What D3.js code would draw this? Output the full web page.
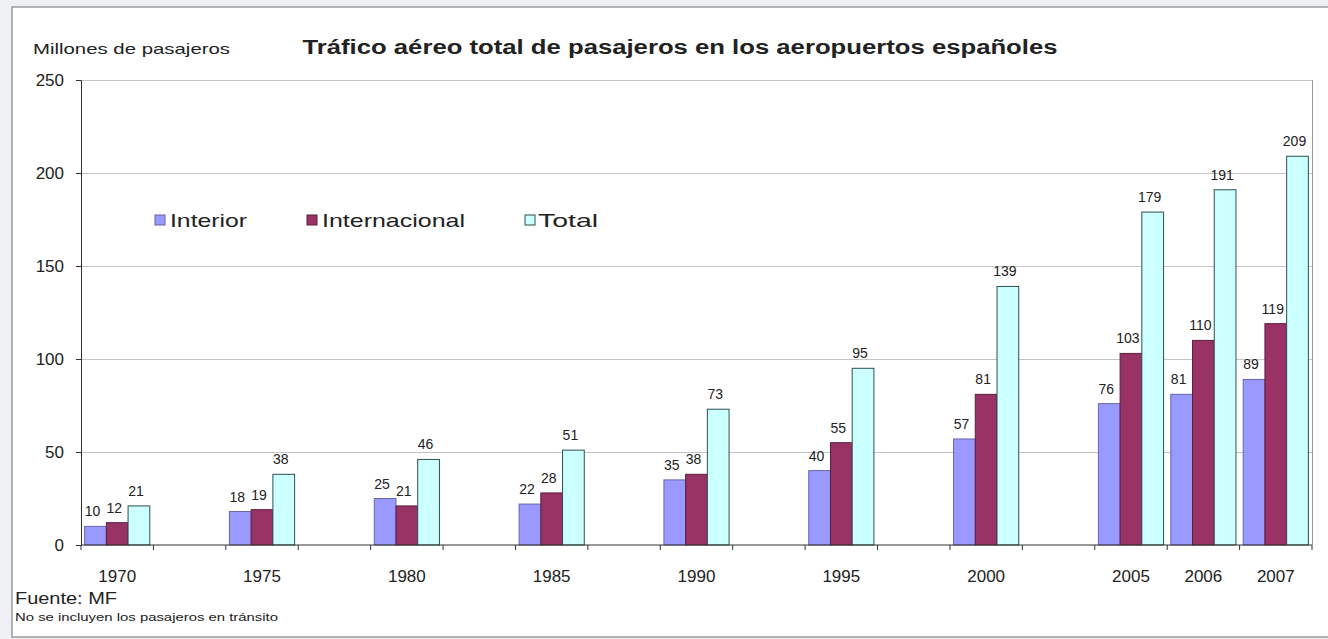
<!DOCTYPE html>
<html>
<head>
<meta charset="utf-8">
<script src="https://cdn.jsdelivr.net/npm/d3@7/dist/d3.min.js"></script>
<style>
  html, body { margin: 0; padding: 0; background: #eef0f3; }
  svg { display: block; }
  text { font-family: "Liberation Sans", Arial, sans-serif; fill: #222; }
</style>
</head>
<body>
<script>
// Passenger air traffic in Spanish airports (millions of passengers)
const years = ["1970", "1975", "1980", "1985", "1990", "1995", "2000", "2005", "2006", "2007"];
const interior = [10, 18, 25, 22, 35, 40, 57, 76, 81, 89];
const internacional = [12, 19, 21, 28, 38, 55, 81, 103, 110, 119];
const total = [21, 38, 46, 51, 73, 95, 139, 179, 191, 209];
const seriesNames = ["Interior", "Internacional", "Total"];
const yTicks = [0, 50, 100, 150, 200, 250];

const W = 1328, H = 639;
const margin = { left: 81, right: 16, top: 80, bottom: 94 };
const colors = { Interior: "#9999ff", Internacional: "#993366", Total: "#ccffff" };
const strokes = { Interior: "#6666aa", Internacional: "#5a1f3c", Total: "#2f4f4f" };

const series = [
  { name: "Interior", values: interior },
  { name: "Internacional", values: internacional },
  { name: "Total", values: total }
];

// Category slots: an empty slot is left between years that are more than one year apart
const slots = [];
years.forEach((y, i) => {
  if (i > 0 && (+y - +years[i - 1]) > 1) slots.push("gap" + i);
  slots.push(y);
});

const svg = d3.select("body").append("svg").attr("width", W).attr("height", H);

// white frame
svg.append("rect").attr("x", 12).attr("y", 7).attr("width", W).attr("height", 630)
  .attr("fill", "#fff").attr("stroke", "#9a9a9a").attr("stroke-width", 1.5);

const x0 = d3.scaleBand().domain(slots).range([margin.left, W - margin.right]).paddingInner(0).paddingOuter(0);
const inner = d3.scaleBand().domain(seriesNames).range([x0.bandwidth() * 0.05, x0.bandwidth() * 0.95]).padding(0);
const y = d3.scaleLinear().domain([0, 250]).range([H - margin.bottom, margin.top]);

// grid
svg.append("g").selectAll("line").data(yTicks.filter(d => d > 0)).join("line")
  .attr("x1", margin.left).attr("x2", W - margin.right)
  .attr("y1", d => y(d) + 0.5).attr("y2", d => y(d) + 0.5)
  .attr("stroke", "#c4c4c4").attr("stroke-width", 1);
// right border of plot area
svg.append("line").attr("x1", W - margin.right + 0.5).attr("x2", W - margin.right + 0.5)
  .attr("y1", y(250)).attr("y2", y(0)).attr("stroke", "#9a9a9a");

// bars
const groups = svg.append("g").selectAll("g").data(years).join("g")
  .attr("transform", d => `translate(${x0(d)},0)`);

groups.selectAll("rect").data((d, i) => series.map(s => ({ name: s.name, v: s.values[i] }))).join("rect")
  .attr("x", d => inner(d.name))
  .attr("y", d => y(d.v))
  .attr("width", inner.bandwidth())
  .attr("height", d => y(0) - y(d.v))
  .attr("fill", d => colors[d.name])
  .attr("stroke", d => strokes[d.name])
  .attr("stroke-width", 1);

groups.selectAll("text.val").data((d, i) => series.map(s => ({ name: s.name, v: s.values[i] }))).join("text")
  .attr("class", "val")
  .attr("x", d => inner(d.name) + inner.bandwidth() / 2 - 3)
  .attr("y", d => y(d.v) - 10)
  .attr("text-anchor", "middle")
  .attr("font-size", 14)
  .text(d => d.v);

// y axis
const yAxis = d3.axisLeft(y).tickValues(yTicks).tickSize(5).tickPadding(12);
const gy = svg.append("g").attr("transform", `translate(${margin.left},0)`).call(yAxis);
gy.select(".domain").attr("stroke", "#333");
gy.selectAll(".tick line").attr("stroke", "#333");
gy.selectAll(".tick text").attr("font-size", 17).attr("fill", "#222")
  .attr("font-family", "'Liberation Sans', Arial, sans-serif");

// x axis: ticks at slot boundaries, labels at year centres
const gx = svg.append("g").attr("transform", `translate(0,${y(0)})`);
gx.append("line").attr("x1", margin.left).attr("x2", W - margin.right)
  .attr("stroke", "#333").attr("stroke-width", 1);
const bounds = slots.map(s => x0(s)).concat([W - margin.right]);
gx.selectAll("line.tk").data(bounds).join("line").attr("class", "tk")
  .attr("x1", d => d).attr("x2", d => d).attr("y1", 0).attr("y2", 5)
  .attr("stroke", "#333");
gx.selectAll("text").data(years).join("text")
  .attr("x", d => x0(d) + x0.bandwidth() / 2)
  .attr("y", 37)
  .attr("text-anchor", "middle")
  .attr("font-size", 17)
  .text(d => d);

// titles
svg.append("text").attr("x", 680).attr("y", 54).attr("text-anchor", "middle")
  .attr("font-size", 20).attr("font-weight", "bold").attr("fill", "#111")
  .attr("textLength", 755).attr("lengthAdjust", "spacingAndGlyphs")
  .text("Tráfico aéreo total de pasajeros en los aeropuertos españoles");
svg.append("text").attr("x", 33).attr("y", 54)
  .attr("font-size", 15).attr("textLength", 197).attr("lengthAdjust", "spacingAndGlyphs")
  .text("Millones de pasajeros");

// legend
const legendPos = [
  { name: "Interior", sx: 155, tx: 170, w: 77 },
  { name: "Internacional", sx: 307, tx: 322, w: 143 },
  { name: "Total", sx: 525, tx: 538, w: 60 }
];
const lg = svg.append("g");
lg.selectAll("rect").data(legendPos).join("rect")
  .attr("x", d => d.sx).attr("y", 215).attr("width", 10).attr("height", 10)
  .attr("fill", d => colors[d.name]).attr("stroke", d => strokes[d.name]);
lg.selectAll("text").data(legendPos).join("text")
  .attr("x", d => d.tx).attr("y", 227)
  .attr("font-size", 19).attr("textLength", d => d.w).attr("lengthAdjust", "spacingAndGlyphs")
  .text(d => d.name);

// source and note
svg.append("text").attr("x", 15).attr("y", 604).attr("font-size", 16)
  .attr("textLength", 102).attr("lengthAdjust", "spacingAndGlyphs").text("Fuente: MF");
svg.append("text").attr("x", 15).attr("y", 621).attr("font-size", 10)
  .attr("textLength", 263).attr("lengthAdjust", "spacingAndGlyphs")
  .text("No se incluyen los pasajeros en tránsito");
</script>
</body>
</html>
